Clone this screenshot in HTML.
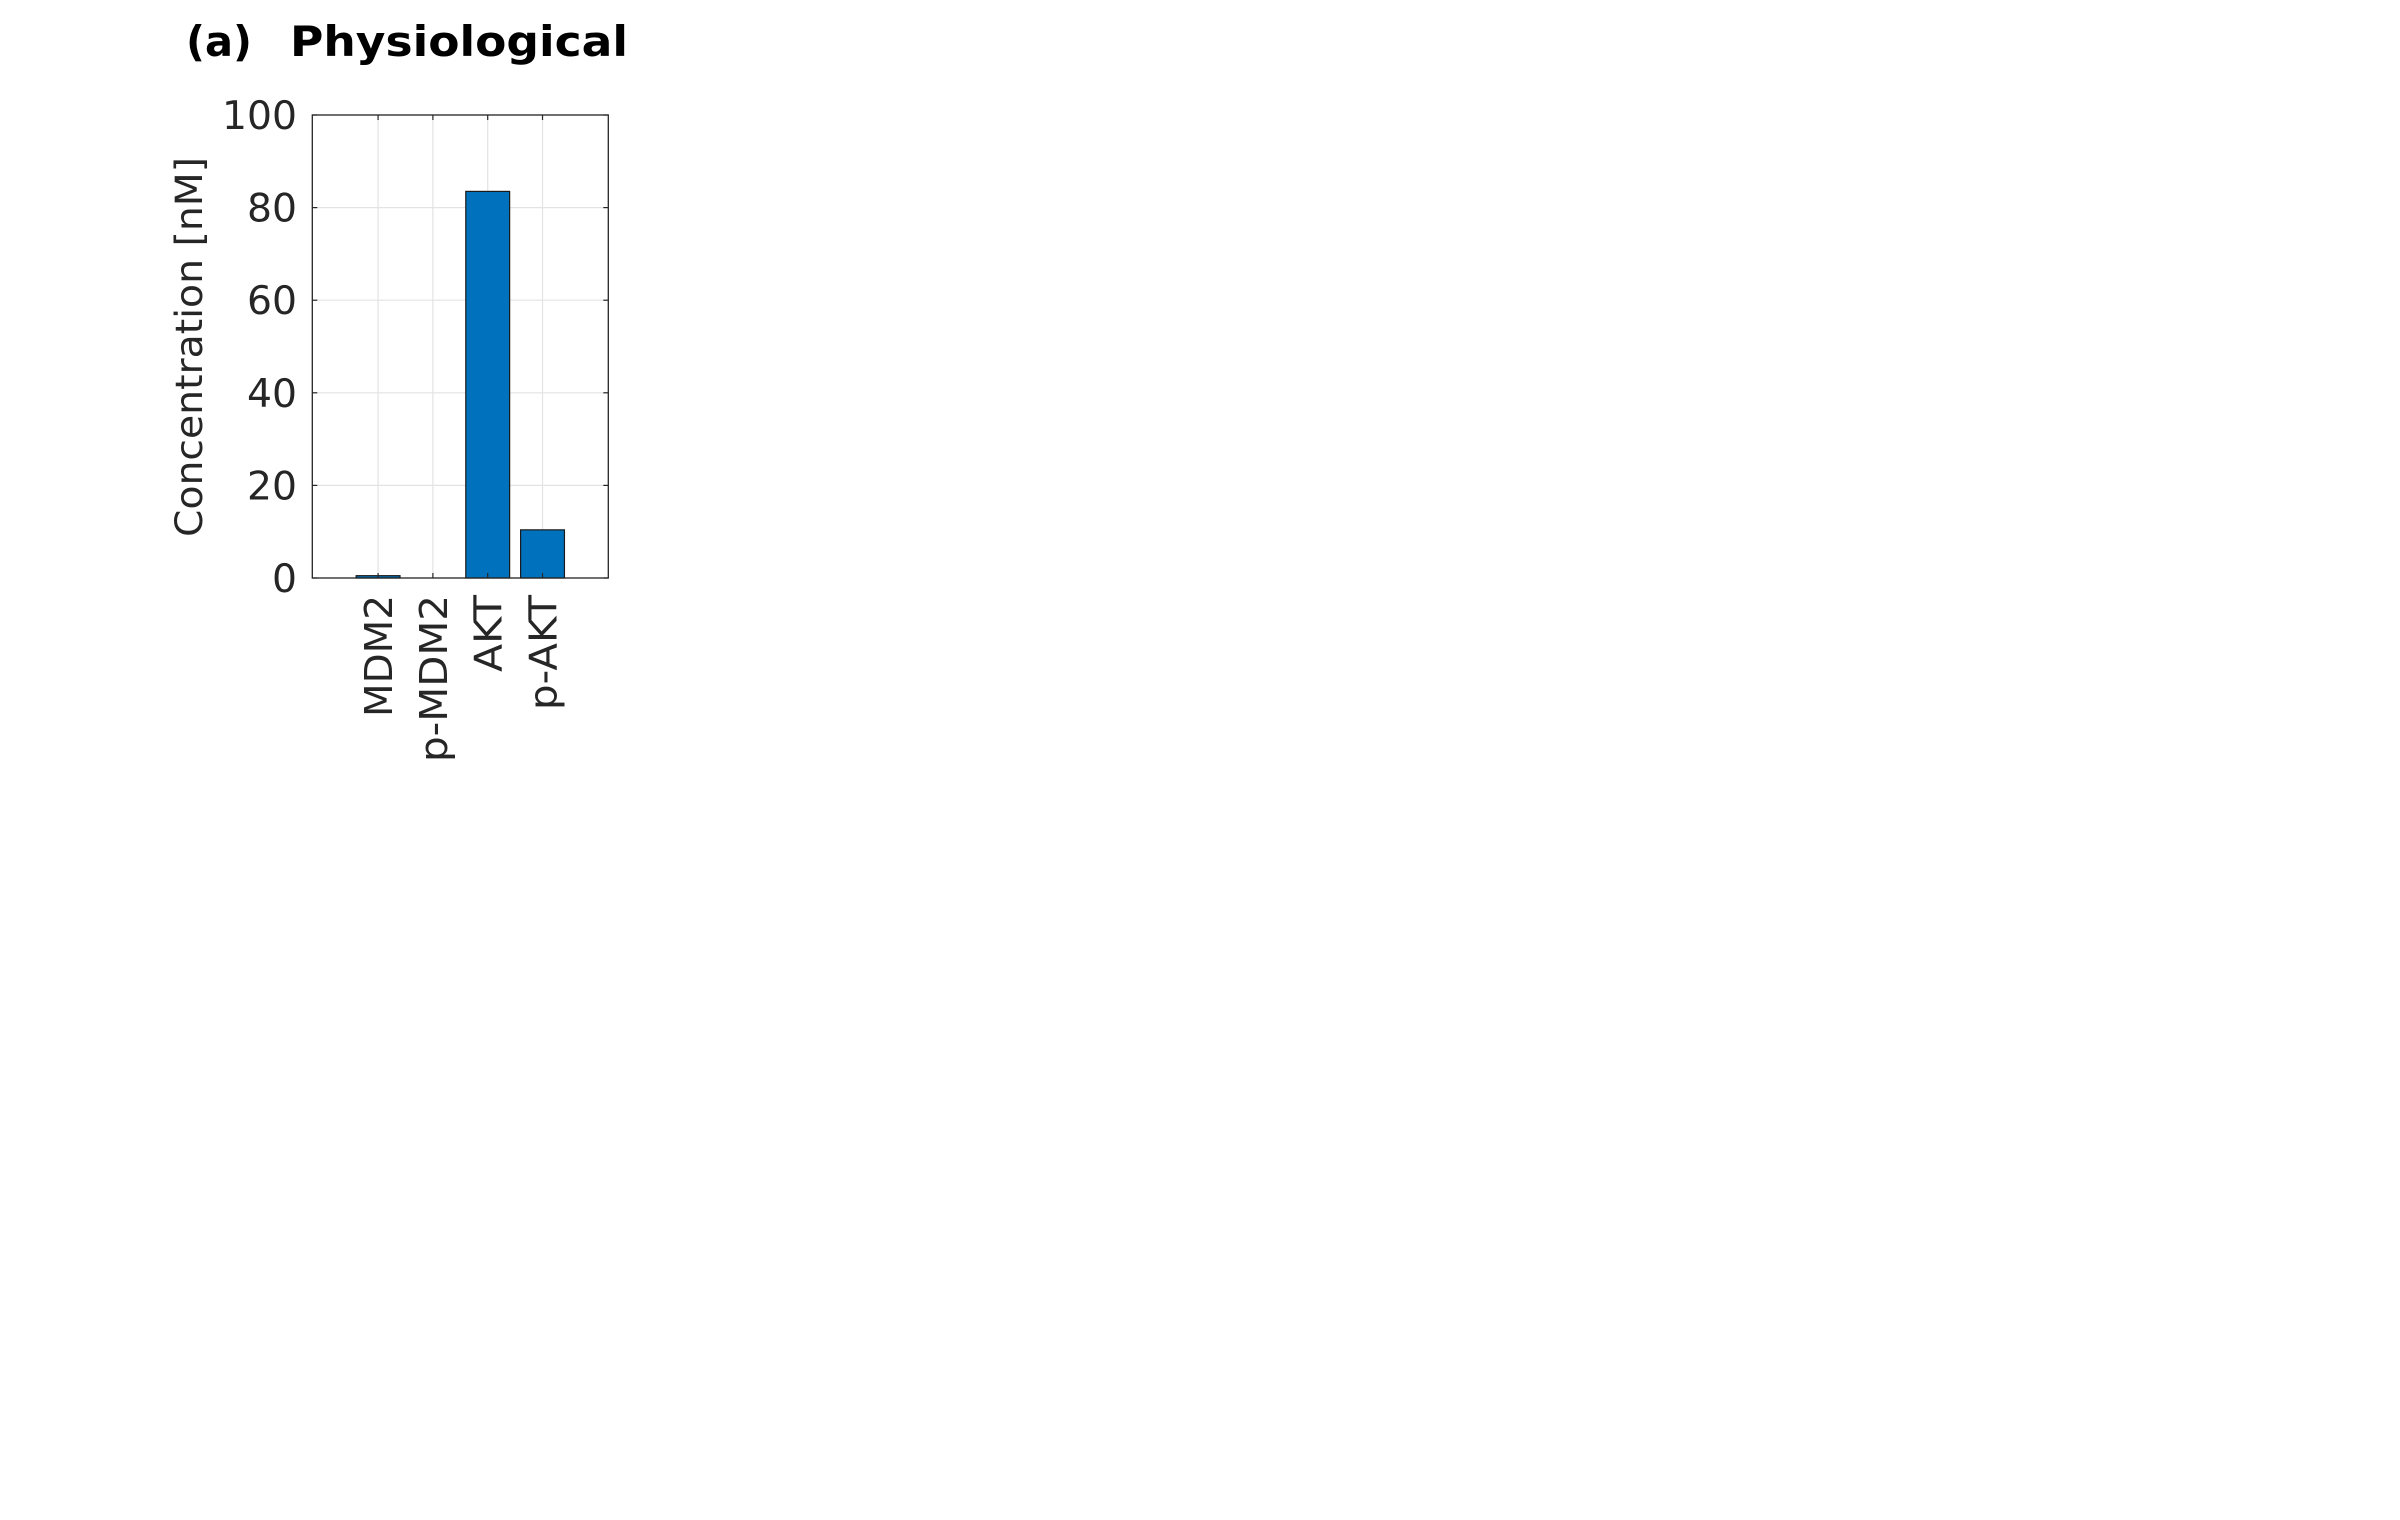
<!DOCTYPE html>
<html><head><meta charset="utf-8"><style>
html,body{margin:0;padding:0;background:#fff;}
svg{display:block;font-family:"DejaVu Sans","Liberation Sans",sans-serif;}
</style></head><body>
<svg id="chart" width="2400" height="1520" viewBox="0 0 2400 1520" xmlns="http://www.w3.org/2000/svg">
<rect width="2400" height="1520" fill="#fff"/>
<text x="186" y="56" font-size="42" font-weight="bold" fill="#000" textLength="66" lengthAdjust="spacingAndGlyphs">(a)</text>
<text x="290" y="56" font-size="42" font-weight="bold" fill="#000" textLength="338" lengthAdjust="spacingAndGlyphs">Physiological</text>
<g id="grid"></g>
<g id="bars"></g>
<rect x="312.3" y="115" width="296" height="463" fill="none" stroke="#262626" stroke-width="1.3"/>
<g id="ticks"></g>
<text transform="translate(202,347) rotate(-90)" text-anchor="middle" font-size="37" fill="#262626" textLength="380" lengthAdjust="spacingAndGlyphs">Concentration [nM]</text>
</svg>
<script>
const categories = ["MDM2", "p-MDM2", "AKT", "p-AKT"];
const values = [0.5, 0, 83.5, 10.4];
const yTicks = [0, 20, 40, 60, 80, 100];
const yTickLabels = ["0", "20", "40", "60", "80", "100"];
const labelLengths = [122, 167, 77, 115];

const NS = "http://www.w3.org/2000/svg";
const L = 312.3, R = 608.3, T = 115, B = 578;
const xMin = -0.2, xMax = 5.2, yMin = 0, yMax = 100;
const xScale = i => L + (i - xMin) / (xMax - xMin) * (R - L);
const yScale = v => B - (v - yMin) / (yMax - yMin) * (B - T);
const step = xScale(1) - xScale(0);
function mk(tag, attrs, parent) {
  const e = document.createElementNS(NS, tag);
  for (const k in attrs) e.setAttribute(k, attrs[k]);
  parent.appendChild(e);
  return e;
}
const grid = document.getElementById("grid");
const bars = document.getElementById("bars");
const ticks = document.getElementById("ticks");

yTicks.forEach((v, i) => {
  const y = yScale(v);
  const g = mk("line", {x1: L, x2: R, y1: y, y2: y, stroke: "#e3e3e3", "stroke-width": 1.2}, grid);
  
  
  const t1 = mk("line", {x1: L, x2: L + 5, y1: y, y2: y, stroke: "#262626", "stroke-width": 1.2}, ticks);
  
  
  const t2 = mk("line", {x1: R - 5, x2: R, y1: y, y2: y, stroke: "#262626", "stroke-width": 1.2}, ticks);
  
  
  const lab = mk("text", {x: 297, y: y + 14, "text-anchor": "end", "font-size": 39, fill: "#262626", textLength: 25 * yTickLabels[i].length, lengthAdjust: "spacingAndGlyphs"}, ticks);
  lab.textContent = yTickLabels[i];
  
  
});

categories.forEach((c, i) => {
  const x = xScale(i + 1);
  const g = mk("line", {x1: x, x2: x, y1: T, y2: B, stroke: "#e3e3e3", "stroke-width": 1.2}, grid);
  
  
  const bw = step * 0.8;
  const y0 = yScale(0), y1 = yScale(values[i]);
  if (values[i] > 0) {
    const b = mk("rect", {x: x - bw / 2, y: y1, width: bw, height: y0 - y1, fill: "#0072bd", stroke: "#1a1a1a", "stroke-width": 1.2}, bars);
    
    
  }
  const t1 = mk("line", {x1: x, x2: x, y1: B - 5, y2: B, stroke: "#262626", "stroke-width": 1.2}, ticks);
  
  
  const t2 = mk("line", {x1: x, x2: x, y1: T, y2: T + 5, stroke: "#262626", "stroke-width": 1.2}, ticks);
  
  
  const lab = mk("text", {transform: "translate(" + (x + 14) + ",595) rotate(-90)", "text-anchor": "end", "font-size": 38, fill: "#262626", textLength: labelLengths[i], lengthAdjust: "spacingAndGlyphs"}, ticks);
  lab.textContent = c;
  
  
});
</script>
</body></html>
